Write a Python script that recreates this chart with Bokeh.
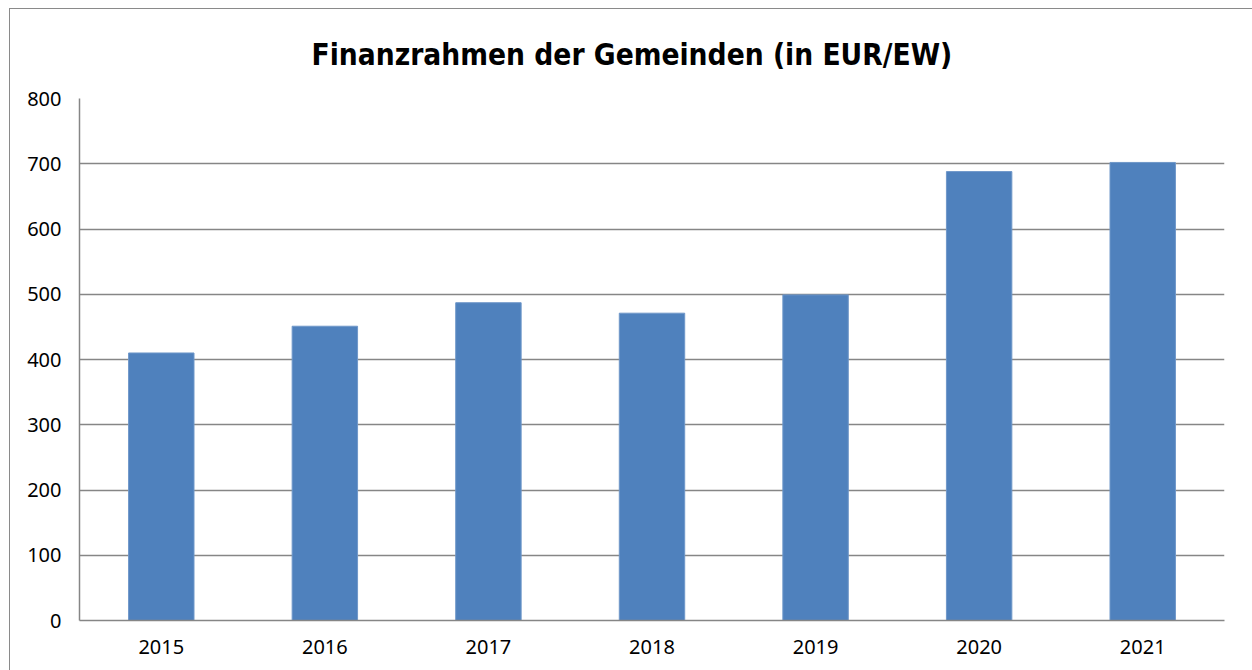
from bokeh.plotting import figure
from bokeh.models import FactorRange, Range1d, FixedTicker, Title
from bokeh.embed import file_html
from bokeh.resources import INLINE

years = ["2015", "2016", "2017", "2018", "2019", "2020", "2021"]
values = [410, 451, 487, 471, 499, 688, 702]
y_ticks = [0, 100, 200, 300, 400, 500, 600, 700, 800]
title_text = "Finanzrahmen der Gemeinden (in EUR/EW)"

GRID = "#868686"
FONT = "Noto Sans"

p = figure(x_range=FactorRange(*years, range_padding=0), y_range=Range1d(0, 800),
           width=1242, height=661, frame_width=1145, frame_height=522,
           min_border_left=69, min_border_top=89, min_border_right=28, min_border_bottom=50,
           output_backend="svg", toolbar_location=None, tools="")
p.styles = {"border-left": "1px solid #8a8a8a", "border-top": "1px solid #8a8a8a",
            "margin-left": "9px", "margin-top": "8px"}

p.vbar(x=years, top=values, width=0.4, fill_color="#4F81BD", line_color="#6f97c9", line_width=1)

t = Title(text=title_text, align="left",
          text_font="DejaVu Sans Condensed", text_font_size="29.6px", text_font_style="bold",
          text_color="#000000", offset=232, standoff=53)
p.add_layout(t, "above")
p.title.visible = False

p.outline_line_color = None
p.xgrid.grid_line_color = None
p.ygrid.grid_line_color = GRID
p.ygrid.grid_line_width = 1.5
p.yaxis.ticker = FixedTicker(ticks=y_ticks)

for ax in (p.xaxis, p.yaxis):
    ax.axis_line_color = GRID
    ax.axis_line_width = 1.5
    ax.major_tick_line_color = None
    ax.minor_tick_line_color = None
    ax.major_label_text_font = FONT
    ax.major_label_text_font_size = "20px"
    ax.major_label_text_color = "#000000"

p.yaxis.major_label_standoff = 12
p.xaxis.major_label_standoff = 13

open("out.html", "w").write(file_html(p, INLINE))
